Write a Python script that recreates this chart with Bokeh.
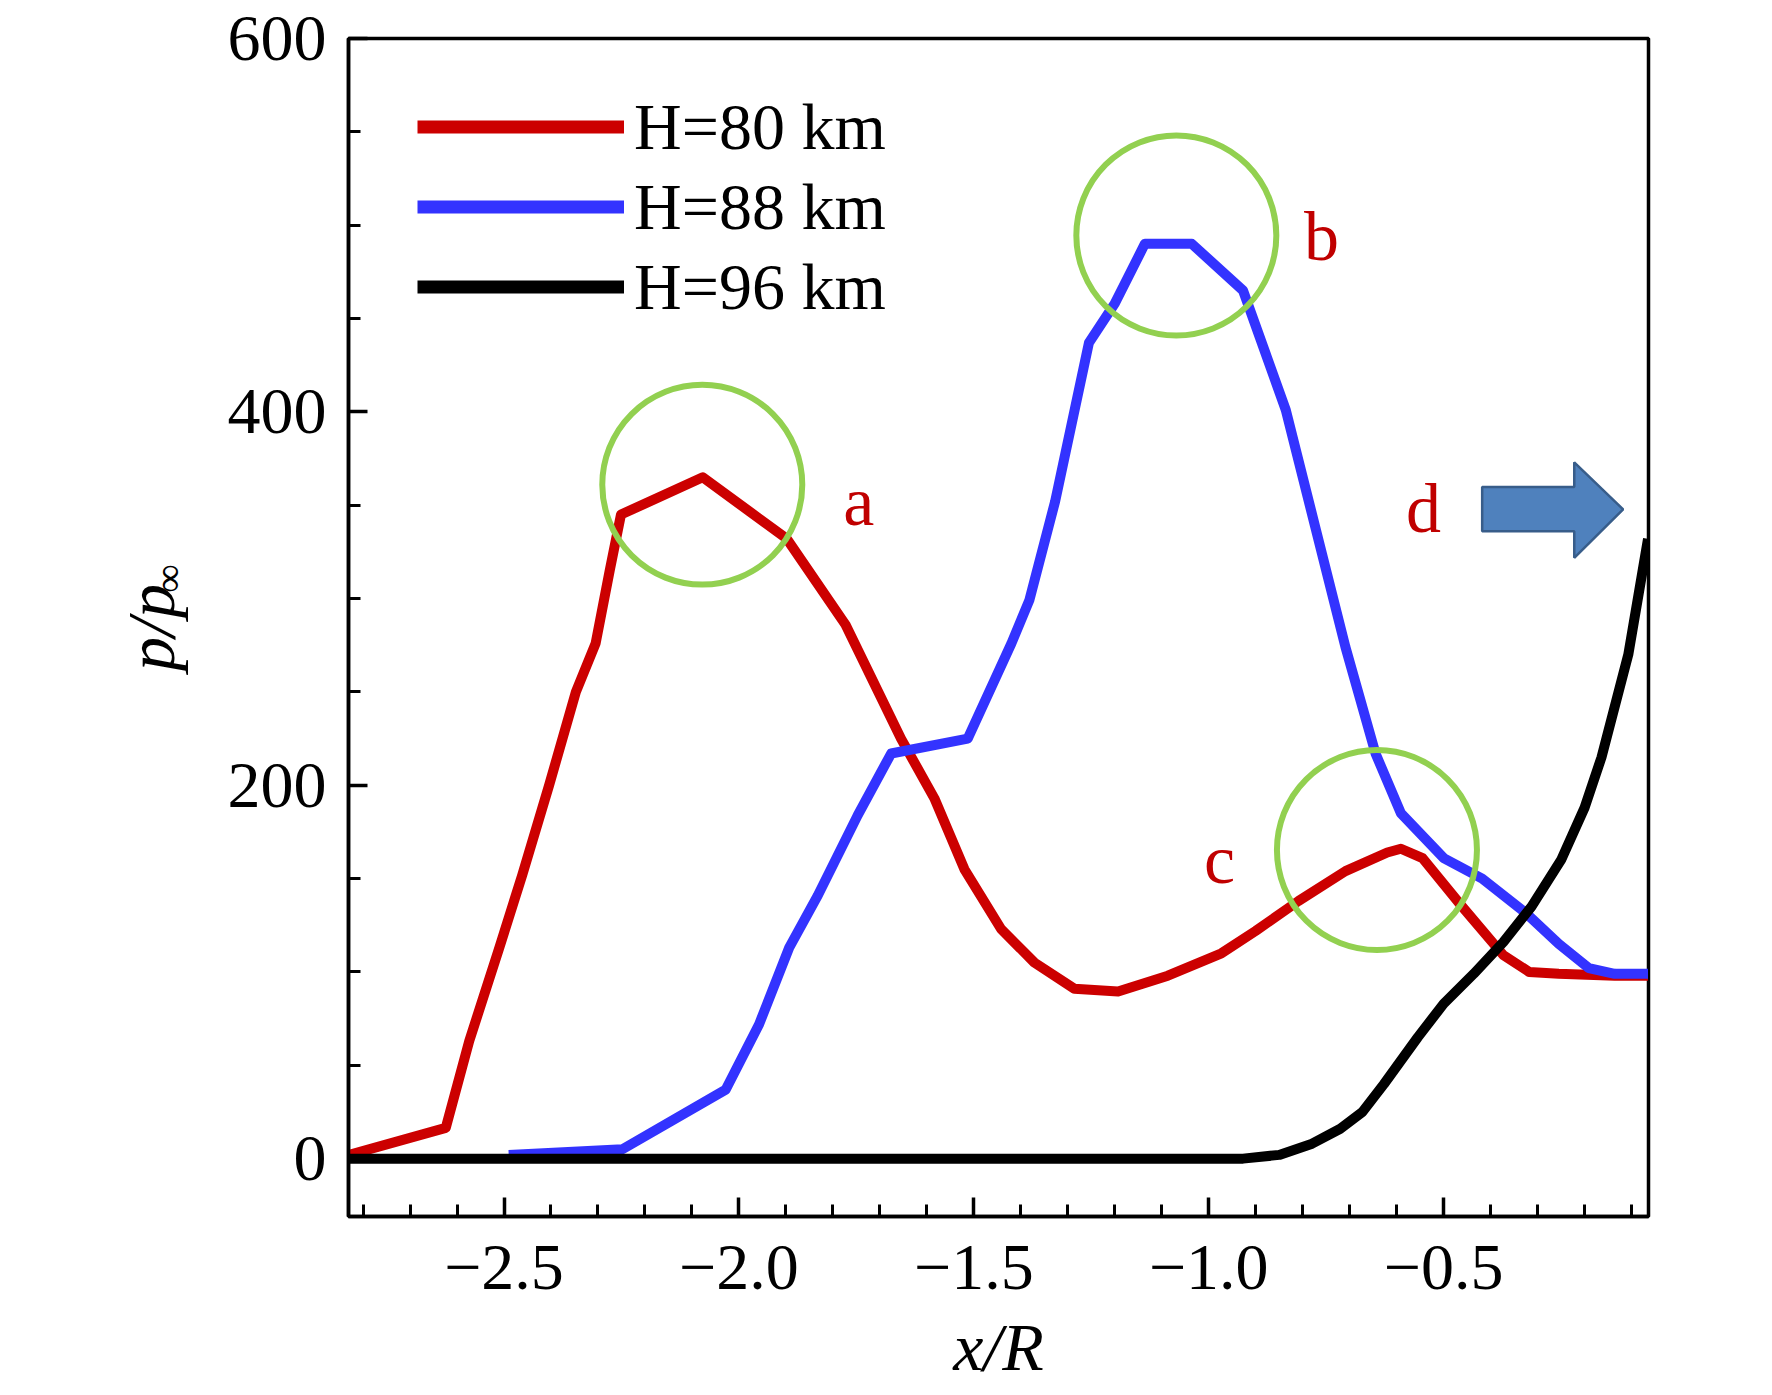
import math
from bokeh.plotting import figure
from bokeh.models import (Range1d, FixedTicker, CustomJSTickFormatter, Label,
                          Legend, LegendItem, LinearAxis)
from bokeh.embed import file_html
from bokeh.resources import INLINE

# ---------------- data ----------------
red_x = [-2.83, -2.624, -2.574, -2.51, -2.461, -2.404, -2.347, -2.305, -2.275, -2.251,
         -2.077, -1.898, -1.773, -1.655, -1.584, -1.52, -1.442, -1.371, -1.286, -1.193,
         -1.087, -0.973, -0.9, -0.809, -0.709, -0.62, -0.591, -0.545, -0.464, -0.373,
         -0.318, -0.255, -0.136, -0.065]
red_y = [2, 16.5, 63, 113, 152, 200, 250, 276, 315, 345,
         365, 332, 286, 225, 193, 155, 123, 105, 91, 89.5,
         98, 110, 122, 138, 154, 164, 166, 161, 136, 109,
         100, 99, 98, 98]

blue_x = [-2.49, -2.248, -2.028, -1.957, -1.893, -1.832, -1.747, -1.676, -1.513, -1.42,
          -1.382, -1.327, -1.255, -1.2, -1.136, -1.036, -0.927, -0.836, -0.773, -0.709,
          -0.645, -0.591, -0.5, -0.418, -0.327, -0.255, -0.191, -0.136, -0.065]
blue_y = [2, 5, 37, 72, 113, 141, 184, 217, 225, 276,
          299, 352, 437, 458, 490, 490, 465, 401, 338, 274,
          217, 185, 161, 150, 132, 115, 102, 99, 99]

black_x = [-2.83, -0.927, -0.85, -0.78, -0.72, -0.673, -0.627, -0.555, -0.5, -0.436,
           -0.373, -0.313, -0.25, -0.2, -0.164, -0.107, -0.065]
black_y = [0, 0, 2, 8, 16, 25, 40, 65, 83, 99,
           116, 135, 160, 188, 215, 270, 332]

series_names = ["H=80 km", "H=88 km", "H=96 km"]
series_colors = ["#cc0000", "#3333ff", "#000000"]

x_major_ticks = [-2.5, -2.0, -1.5, -1.0, -0.5]
x_minor_ticks = [round(-2.8 + 0.1 * i, 2) for i in range(28)]
y_major_ticks = [0, 200, 400, 600]
y_minor_ticks = [50, 100, 150, 250, 300, 350, 450, 500, 550]

# annotations (green circles, letters, arrow)
circ_x = [-2.078, -1.069, -0.642]
circ_y = [361, 494.5, 165.3]
letters = ["a", "b", "c", "d"]
letter_x = [-1.745, -0.760, -0.977, -0.543]
letter_y = [352, 494, 160, 348]
arrow_x = [-0.418, -0.222, -0.222, -0.118, -0.222, -0.222, -0.418]
arrow_y = [359.7, 359.7, 373, 347.8, 321.8, 336, 336]

# position (along the y axis, in data units) of the subscript of the y title
y_title_sub_pos = 310.7

FONT = "Liberation Serif"

# ---------------- main figure ----------------
p = figure(width=1764, height=1387, output_backend="svg", toolbar_location=None,
           x_range=Range1d(-2.831, -0.064), y_range=Range1d(-31, 600),
           min_border_left=348, min_border_right=116,
           min_border_top=38, min_border_bottom=171)
p.xgrid.visible = False
p.ygrid.visible = False
p.outline_line_color = "black"
p.outline_line_width = 3.5
p.outline_line_alpha = 1.0
p.background_fill_color = "white"
p.border_fill_color = "white"

p.xaxis.ticker = FixedTicker(ticks=x_major_ticks, minor_ticks=x_minor_ticks)
p.yaxis.ticker = FixedTicker(ticks=y_major_ticks, minor_ticks=y_minor_ticks)
p.xaxis.formatter = CustomJSTickFormatter(
    code="return tick < 0 ? '\\u2212' + Math.abs(tick).toFixed(1) : tick.toFixed(1);")

for ax in (p.xaxis[0], p.yaxis[0]):
    ax.axis_line_width = 3.5
    ax.axis_line_color = "black"
    ax.major_tick_in = 19
    ax.major_tick_out = 0
    ax.minor_tick_in = 12
    ax.minor_tick_out = 0
    ax.major_tick_line_width = 3.5
    ax.minor_tick_line_width = 3
    ax.major_tick_line_color = "black"
    ax.minor_tick_line_color = "black"
    ax.major_label_text_font = FONT
    ax.major_label_text_font_size = "66px"
    ax.major_label_text_color = "black"
    ax.axis_label_text_font = FONT
    ax.axis_label_text_font_size = "68px"
    ax.axis_label_text_font_style = "italic"
    ax.axis_label_text_color = "black"
p.xaxis.major_label_standoff = 29
p.yaxis.major_label_standoff = 22

p.xaxis.axis_label = "x/R"
p.xaxis.axis_label_standoff = 17
p.yaxis.axis_label = "p/p"
p.yaxis.axis_label_standoff = 36

# subscript "∞" of the y title, drawn as the only label of a bare extra axis
sub_axis = LinearAxis(ticker=FixedTicker(ticks=[y_title_sub_pos], minor_ticks=[]),
                      formatter=CustomJSTickFormatter(code="return '\\u221e';"),
                      axis_line_alpha=0, major_tick_line_alpha=0, minor_tick_line_alpha=0,
                      major_tick_in=0, major_tick_out=0, minor_tick_in=0, minor_tick_out=0,
                      major_label_orientation="vertical", major_label_standoff=-82,
                      major_label_text_font=FONT, major_label_text_font_size="40px",
                      major_label_text_color="black")
p.add_layout(sub_axis, "left")

# ---------------- curves ----------------
p.line(red_x, red_y, line_color=series_colors[0], line_width=10, line_join="round")
p.line(blue_x, blue_y, line_color=series_colors[1], line_width=10, line_join="round")
p.line(black_x, black_y, line_color=series_colors[2], line_width=10, line_join="round")

# legend proxies (thicker legend strokes as in the original)
nan = float("nan")
proxies = [p.line([nan], [nan], line_color=c, line_width=13) for c in series_colors]
legend = Legend(items=[LegendItem(label=n, renderers=[r]) for n, r in zip(series_names, proxies)],
                location=(69, 890), glyph_width=207, glyph_height=79,
                label_standoff=10, spacing=1, padding=0, margin=0,
                label_text_font=FONT, label_text_font_size="66px",
                label_text_color="black",
                border_line_alpha=0, background_fill_alpha=0)
p.add_layout(legend)

# ---------------- annotations ----------------
p.circle(x=circ_x, y=circ_y, radius=100, radius_units="screen",
         fill_color=None, line_color="#92d050", line_width=6)

p.patch(arrow_x, arrow_y, fill_color="#4f81bd", line_color="#385d8a", line_width=2.5)

for t, lx, ly in zip(letters, letter_x, letter_y):
    p.add_layout(Label(x=lx, y=ly, text=t, text_color="#c00000", text_font=FONT,
                       text_font_size="70px", text_align="center",
                       text_baseline="alphabetic"))

with open("out.html", "w", encoding="utf-8") as f:
    f.write(file_html(p, INLINE))
